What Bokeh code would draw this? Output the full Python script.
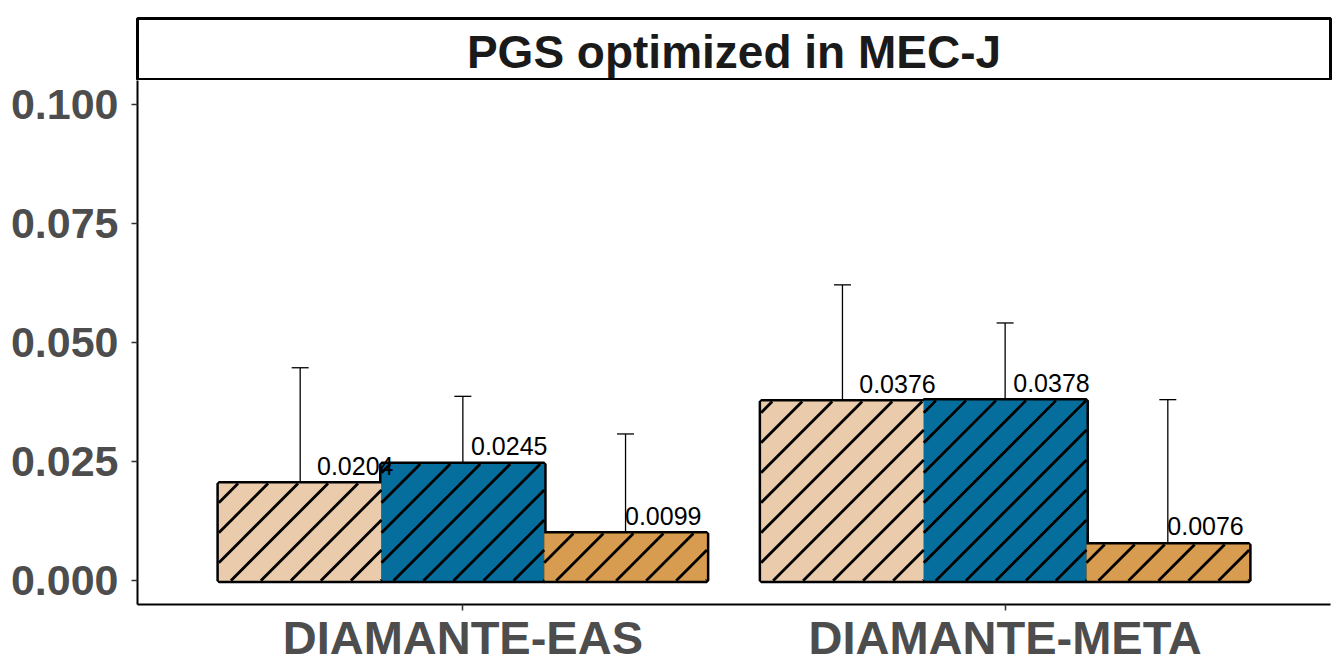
from bokeh.plotting import figure
from bokeh.models import Range1d, FixedTicker, ColumnDataSource, Whisker, TeeHead, Label
from bokeh.layouts import column
from bokeh.embed import file_html
from bokeh.resources import INLINE
from bokeh.core.properties import value

# ---- data ----
title = "PGS optimized in MEC-J"
groups = ["DIAMANTE-EAS", "DIAMANTE-META"]
series = ["series 1", "series 2", "series 3"]
colors = ["#EACBAB", "#066E9C", "#D89C50"]
r2_eas = [0.0204, 0.0245, 0.0099]
r2_meta = [0.0376, 0.0378, 0.0076]
upper_eas = [0.0447, 0.0387, 0.0308]
upper_meta = [0.0621, 0.0541, 0.0380]
y_ticks = [0.0, 0.025, 0.05, 0.075, 0.1]
y_tick_labels = ["0.000", "0.025", "0.050", "0.075", "0.100"]

# ---- layout constants ----
FONT = "Liberation Sans"
W = 1341
STRIP_H = 80
MAIN_H = 590
B_LEFT, B_RIGHT, B_BOTTOM = 137, 11, 66
X0, X1 = 0.4, 2.6
Y0, Y1 = -0.005, 0.105
BAR_W = 0.3
LABEL_DODGE = 0.284
LABEL_SHIFT = 0.015
HATCH_STEP = 30      # px between hatch lines (horizontal)
HATCH_PHASE = 12     # px

px_per_x = (W - B_LEFT - B_RIGHT) / (X1 - X0)
px_per_y = (MAIN_H - B_BOTTOM) / (Y1 - Y0)

xs, tops, uppers, cols, txs, labs = [], [], [], [], [], []
for gi, (vals, ups) in enumerate([(r2_eas, upper_eas), (r2_meta, upper_meta)]):
    for j in range(len(series)):
        xs.append(gi + 1 + (j - 1) * BAR_W)
        tops.append(vals[j])
        uppers.append(ups[j])
        cols.append(colors[j])
        txs.append(gi + 1 + (j - 1) * LABEL_DODGE + LABEL_SHIFT)
        labs.append(f"{vals[j]:.4f}")

src = ColumnDataSource(dict(x=xs, top=tops, upper=uppers, color=cols, tx=txs, label=labs))

# 45-degree "/" hatch lines clipped to each bar (derived from bar geometry)
hx0, hy0, hx1, hy1 = [], [], [], []
for xc, t in zip(xs, tops):
    left = xc - BAR_W / 2
    w = BAR_W * px_per_x
    h = t * px_per_y
    c = HATCH_PHASE - HATCH_STEP * int(h / HATCH_STEP + 2)
    while c < w:
        sx, sy = (c, 0.0) if c >= 0 else (0.0, -c)
        ex = min(w, h + c)
        ey = ex - c
        if ex > sx:
            hx0.append(left + sx / px_per_x); hy0.append(sy / px_per_y)
            hx1.append(left + ex / px_per_x); hy1.append(ey / px_per_y)
        c += HATCH_STEP

# ---- strip with title ----
s = figure(width=W, height=STRIP_H, x_range=Range1d(0, 1), y_range=Range1d(0, 1),
           toolbar_location=None, output_backend="svg",
           x_axis_location=None, y_axis_location=None,
           min_border_left=B_LEFT, min_border_right=B_RIGHT, min_border_top=18, min_border_bottom=0)
s.grid.visible = False
s.outline_line_color = "black"
s.outline_line_width = 3
s.add_layout(Label(x=0.5, y=0.5, text=title, text_align="center", text_baseline="middle",
                   text_font=FONT, text_font_style="bold", text_font_size="46px",
                   text_color="#1A1A1A", y_offset=-2))

# ---- main panel ----
p = figure(width=W, height=MAIN_H, x_range=Range1d(X0, X1), y_range=Range1d(Y0, Y1),
           toolbar_location=None, output_backend="svg",
           min_border_left=B_LEFT, min_border_right=B_RIGHT, min_border_top=0,
           min_border_bottom=B_BOTTOM)
p.grid.visible = False
p.outline_line_color = None

p.vbar(x="x", top="top", bottom=0, width=BAR_W, source=src,
       fill_color=None, line_color="black", line_width=5)
p.vbar(x="x", top="top", bottom=0, width=BAR_W, source=src,
       fill_color="color", line_color=None)
p.segment(x0=hx0, y0=hy0, x1=hx1, y1=hy1, line_color="black", line_width=2.8)

p.add_layout(Whisker(source=src, base="x", upper="upper", lower="top", dimension="height",
                     line_color="black", line_width=1.3,
                     upper_head=TeeHead(size=17, line_width=1.3, line_color="black"),
                     lower_head=TeeHead(size=17, line_width=1.3, line_color="black")))

p.text(x="tx", y="top", text="label", source=src, text_align="left", text_baseline="alphabetic",
       y_offset=-18, text_font=value(FONT), text_font_size="25px", text_color="black")

p.xaxis.ticker = FixedTicker(ticks=[1, 2])
p.xaxis.major_label_overrides = {1: groups[0], 2: groups[1]}
p.yaxis.ticker = FixedTicker(ticks=y_ticks)
p.yaxis.major_label_overrides = {t: l for t, l in zip(y_ticks, y_tick_labels)}

for ax in (p.xaxis, p.yaxis):
    ax.axis_line_color = "black"
    ax.axis_line_width = 2
    ax.major_tick_line_color = "#333333"
    ax.major_tick_line_width = 1.5
    ax.major_tick_in = 0
    ax.major_tick_out = 6
    ax.minor_tick_line_color = None
    ax.major_label_text_font = FONT
    ax.major_label_text_font_style = "bold"
    ax.major_label_text_color = "#4D4D4D"

p.yaxis.major_label_text_font_size = "43px"
p.yaxis.major_label_standoff = 13
p.xaxis.major_label_text_font_size = "47px"
p.xaxis.major_label_standoff = 0

layout = column(s, p, spacing=0)
open("out.html", "w").write(file_html(layout, INLINE))
